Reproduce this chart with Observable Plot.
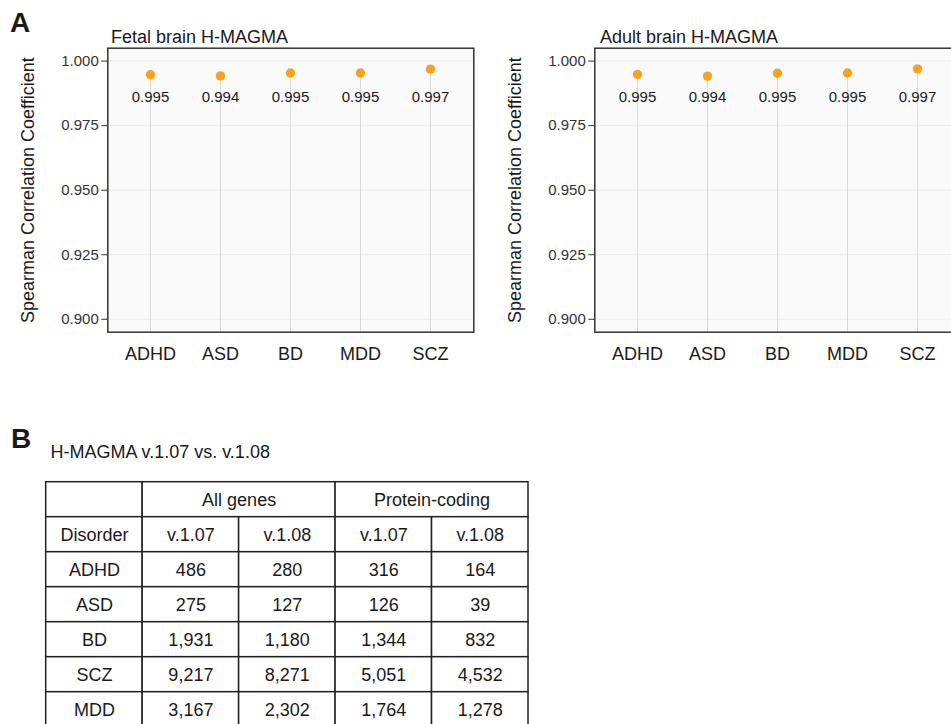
<!DOCTYPE html>
<html><head><meta charset="utf-8">
<script src="https://cdn.jsdelivr.net/npm/d3@7"></script>
<script src="https://cdn.jsdelivr.net/npm/@observablehq/plot@0.6"></script>
<style>
body{margin:0;width:951px;height:724px;overflow:hidden;position:relative;background:#fff;font-family:"Liberation Sans",Arial,Helvetica,sans-serif;color:#1a1a1a}
.abs{position:absolute;white-space:nowrap}
.tag{font-weight:bold;font-size:28px;line-height:28px}
.ttl{font-size:18px;line-height:18px}
</style></head><body>
<script>
// ---- Panel A data ----
const disorders = ["ADHD", "ASD", "BD", "MDD", "SCZ"];
const fetalRho = [0.9947, 0.9943, 0.9954, 0.9954, 0.9969];
const adultRho = [0.9948, 0.9942, 0.9953, 0.9954, 0.9970];
const panelTitles = ["Fetal brain H-MAGMA", "Adult brain H-MAGMA"];
const yTicks = [0.900, 0.925, 0.950, 0.975, 1.000];
const yTitle = "Spearman Correlation Coefficient";

// ---- Panel B data ----
const tableTitle = "H-MAGMA v.1.07 vs. v.1.08";
const groupHeaders = ["All genes", "Protein-coding"];
const versionHeaders = ["v.1.07", "v.1.08"];
const firstColHeader = "Disorder";
const tableDisorders = ["ADHD", "ASD", "BD", "SCZ", "MDD"];
const allGenes107 = [486, 275, 1931, 9217, 3167];
const allGenes108 = [280, 127, 1180, 8271, 2302];
const protein107 = [316, 126, 1344, 5051, 1764];
const protein108 = [164, 39, 832, 4532, 1278];

const FONT = '"Liberation Sans", Arial, Helvetica, sans-serif';
const yDomain = [0.895, 1.005];
const labelY = 0.986;

function place(el, left, top) {
  el.style.position = "absolute";
  el.style.left = left + "px";
  el.style.top = top + "px";
  document.body.appendChild(el);
  return el;
}
function textDiv(txt, cls, left, top) {
  const d = document.createElement("div");
  d.className = "abs " + cls;
  d.textContent = txt;
  return place(d, left, top);
}

function panel(values) {
  const data = disorders.map((d, i) => ({disorder: d, rho: values[i]}));
  return Plot.plot({
    width: 480, height: 380,
    marginLeft: 107.3, marginRight: 6.7, marginTop: 47.7, marginBottom: 48.3,
    style: {fontFamily: FONT, background: "transparent", color: "#1a1a1a", overflow: "visible"},
    x: {type: "point", domain: disorders, padding: 0.6},
    y: {domain: yDomain},
    marks: [
      Plot.frame({fill: "#fafafa", stroke: "none"}),
      Plot.gridY(yTicks, {stroke: "#ebebeb", strokeOpacity: 1, strokeWidth: 1}),
      Plot.ruleX(data, {x: "disorder", y1: () => yDomain[0], y2: "rho", stroke: "#dadada", strokeWidth: 1}),
      Plot.dot(data, {x: "disorder", y: "rho", r: 4.7, fill: "#f8a21e", stroke: "none"}),
      Plot.text(data, {x: "disorder", y: () => labelY, text: d => d3.format(".3f")(d.rho), fontSize: 15, fill: "#1a1a1a"}),
      Plot.axisY(yTicks, {tickSize: 6, tickPadding: 3, fontSize: 15, tickFormat: ".3f", label: null, stroke: "#333", fill: "#333"}),
      Plot.axisX({tickSize: 0, tickPadding: 15, fontSize: 18, label: null, fill: "#1a1a1a"}),
      Plot.text([yTitle], {frameAnchor: "left", text: d => d, rotate: -90, dx: -80, textAnchor: "middle", lineAnchor: "middle", fontSize: 18, fill: "#1a1a1a"}),
      Plot.frame({stroke: "#333", strokeWidth: 1.5})
    ]
  });
}

function table() {
  const fmt = d3.format(",");
  const cells = [];
  // header row 0
  cells.push({c0: 0, c1: 1, r: 0, label: ""});
  groupHeaders.forEach((g, i) => cells.push({c0: 1 + 2 * i, c1: 3 + 2 * i, r: 0, label: g}));
  // header row 1
  cells.push({c0: 0, c1: 1, r: 1, label: firstColHeader});
  groupHeaders.forEach((g, i) => versionHeaders.forEach((v, j) =>
    cells.push({c0: 1 + 2 * i + j, c1: 2 + 2 * i + j, r: 1, label: v})));
  // body
  const cols = [allGenes107, allGenes108, protein107, protein108];
  tableDisorders.forEach((d, i) => {
    cells.push({c0: 0, c1: 1, r: 2 + i, label: d});
    cols.forEach((col, j) => cells.push({c0: 1 + j, c1: 2 + j, r: 2 + i, label: fmt(col[i])}));
  });
  const nRows = 2 + tableDisorders.length;
  return Plot.plot({
    width: 540, height: 270,
    marginLeft: 45.7, marginRight: 12, marginTop: 11.7, marginBottom: 13.3,
    style: {fontFamily: FONT, background: "transparent", overflow: "visible"},
    x: {type: "linear", domain: [0, 5], axis: null},
    y: {type: "linear", domain: [0, nRows], reverse: true, axis: null},
    marks: [
      Plot.rect(cells, {x1: "c0", x2: "c1", y1: "r", y2: d => d.r + 1, fill: "white", stroke: "#222", strokeWidth: 1.5}),
      Plot.text(cells, {x: d => (d.c0 + d.c1) / 2, y: d => d.r + 0.5, text: "label", fontSize: 18, fill: "#1a1a1a", dy: 1})
    ]
  });
}

// Layout
textDiv("A", "tag", 10, 9.3);
place(panel(fetalRho), 0, 0);
place(panel(adultRho), 487, 0);
textDiv(panelTitles[0], "ttl", 111, 28);
textDiv(panelTitles[1], "ttl", 600, 28);
textDiv("B", "tag", 11, 424.5);
textDiv(tableTitle, "ttl", 50.5, 443.2);
place(table(), 0, 470);
</script></body></html>
